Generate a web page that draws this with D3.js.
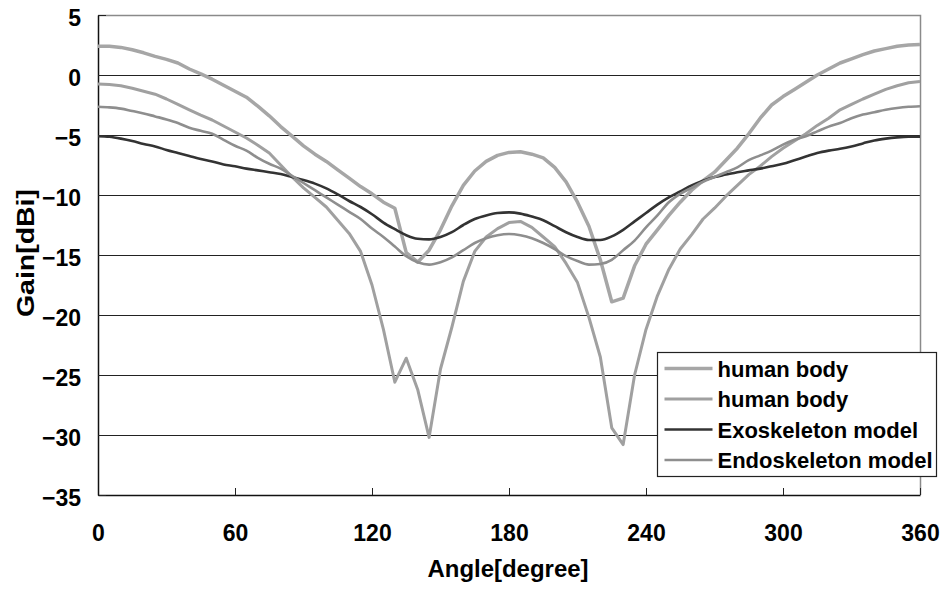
<!DOCTYPE html>
<html>
<head>
<meta charset="utf-8">
<script src="https://cdn.jsdelivr.net/npm/d3@7"></script>
<style>
    body { margin: 0; background: #fff; }
    svg { display: block; font-family: "Liberation Sans", Arial, sans-serif; font-weight: bold; }
</style>
</head>
<body>
<svg id="chart"></svg>
<script>
// angles every 5 degrees, 0..360
const angles = d3.range(0, 361, 5)

const humanBodyA = [
    2.4, 2.4, 2.3, 2.1, 1.85, 1.55, 1.3, 1.0, 0.5, 0.1,
    -0.35, -0.85, -1.35, -1.85, -2.6, -3.4, -4.3, -5.1, -5.9, -6.6,
    -7.2, -7.9, -8.6, -9.3, -9.9, -10.6, -11.1, -14.8, -15.6, -14.6,
    -12.9, -10.9, -9.2, -8.0, -7.2, -6.7, -6.45, -6.4, -6.6, -6.9,
    -7.7, -8.9, -10.6, -12.6, -15.4, -18.9, -18.6, -15.9, -14.1, -12.9,
    -11.7, -10.6, -9.6, -8.8, -8.1, -7.1, -6.1, -4.9, -3.6, -2.5,
    -1.8, -1.2, -0.6, 0.0, 0.5, 1.0, 1.35, 1.7, 2.0, 2.2,
    2.4, 2.5, 2.55
]
const humanBodyB = [
    -0.75, -0.8, -0.9, -1.1, -1.35, -1.6, -2.0, -2.45, -2.9, -3.35,
    -3.75, -4.25, -4.75, -5.25, -5.85, -6.5, -7.5, -8.5, -9.4, -10.2,
    -11.0, -12.1, -13.2, -14.7, -17.5, -21.2, -25.6, -23.6, -26.2, -30.2,
    -24.5, -21.0, -17.2, -14.7, -13.5, -12.8, -12.3, -12.2, -12.7, -13.5,
    -14.3, -15.7, -17.3, -20.2, -23.5, -29.4, -30.8, -25.0, -21.2, -18.4,
    -16.2, -14.5, -13.3, -12.0, -11.1, -10.1, -9.2, -8.3, -7.6, -6.8,
    -6.1, -5.5, -4.9, -4.2, -3.6, -2.9, -2.45, -2.0, -1.6, -1.2,
    -0.9, -0.65, -0.55
]
const exoskeleton = [
    -5.1, -5.15, -5.3, -5.5, -5.75, -5.95, -6.25, -6.5, -6.75, -7.0,
    -7.2, -7.45, -7.6, -7.8, -7.95, -8.1, -8.25, -8.5, -8.75, -9.05,
    -9.45, -9.95, -10.5, -11.0, -11.6, -12.3, -12.85, -13.35, -13.65, -13.7,
    -13.5, -13.1, -12.5, -12.0, -11.7, -11.5, -11.45, -11.55, -11.8, -12.1,
    -12.6, -13.1, -13.5, -13.75, -13.75, -13.45, -12.9, -12.2, -11.5, -10.8,
    -10.2, -9.7, -9.2, -8.8, -8.5, -8.3, -8.1, -7.95, -7.8, -7.6,
    -7.4, -7.1, -6.8, -6.5, -6.3, -6.15, -5.95, -5.7, -5.45, -5.3,
    -5.2, -5.15, -5.15
]
const endoskeleton = [
    -2.65, -2.7, -2.8, -3.0, -3.2, -3.45, -3.7, -4.0, -4.4, -4.65,
    -4.9, -5.4, -5.9, -6.3, -6.9, -7.4, -7.8, -8.4, -9.0, -9.6,
    -10.2, -10.8, -11.4, -12.0, -12.8, -13.5, -14.3, -15.1, -15.6, -15.8,
    -15.6, -15.2, -14.6, -14.0, -13.6, -13.35, -13.25, -13.35, -13.6, -14.0,
    -14.5, -15.1, -15.5, -15.8, -15.75, -15.4, -14.6, -13.8, -12.7, -11.7,
    -10.6, -9.9, -9.4, -8.9, -8.5, -8.1, -7.7, -7.1, -6.7, -6.3,
    -5.8, -5.4, -5.1, -4.7, -4.3, -4.0, -3.6, -3.3, -3.1, -2.9,
    -2.75, -2.65, -2.6
]

const xTicks = [0, 60, 120, 180, 240, 300, 360]
const yTicks = [5, 0, -5, -10, -15, -20, -25, -30, -35]

const seriesNames = ['human body', 'human body', 'Exoskeleton model', 'Endoskeleton model']

// series drawn in legend order
const series = [
    {name: seriesNames[0], values: humanBodyA, color: '#a6a6a6', width: 3.5, curve: d3.curveLinear},
    {name: seriesNames[1], values: humanBodyB, color: '#a0a0a0', width: 3, curve: d3.curveLinear},
    {name: seriesNames[2], values: exoskeleton, color: '#333333', width: 2.6, curve: d3.curveMonotoneX},
    {name: seriesNames[3], values: endoskeleton, color: '#8e8e8e', width: 2.6, curve: d3.curveMonotoneX}
]

// setting up container
    const width = 945
    const height = 590
    const plot = {left: 98, right: 920, top: 15, bottom: 495}
    const font = '"Liberation Sans", Arial, sans-serif'
    const svg = d3.select('#chart')
        .attr('width', width)
        .attr('height', height)

// set up scale
    const xScale = d3.scaleLinear()
        .domain([0, 360])
        .range([plot.left, plot.right])
    const yScale = d3.scaleLinear()
        .domain([-35, 5])
        .range([plot.bottom, plot.top])

// draw grid lines
    svg.append('g')
        .selectAll('line')
        .data(yTicks.filter(d => d < 5 && d > -35))
        .enter()
        .append('line')
            .attr('x1', plot.left)
            .attr('x2', plot.right)
            .attr('y1', d => Math.round(yScale(d)) + 0.5)
            .attr('y2', d => Math.round(yScale(d)) + 0.5)
            .attr('stroke', '#222')
            .attr('stroke-width', 1)

    // frame top and right in gray
    svg.append('path')
        .attr('d', `M${plot.left},${plot.top + 0.5}H${plot.right + 0.5}V${plot.bottom}`)
        .attr('fill', 'none')
        .attr('stroke', '#8a8a8a')
        .attr('stroke-width', 1.5)

// set up axes
    const xAxis = d3.axisBottom(xScale)
        .tickValues(xTicks)
        .tickSizeInner(-7)
        .tickSizeOuter(0)
        .tickPadding(30)
    const yAxis = d3.axisLeft(yScale)
        .tickValues(yTicks)
        .tickSizeInner(-8)
        .tickSizeOuter(0)
        .tickPadding(17)
    svg.append('g')
        .attr('transform', `translate(0, ${plot.bottom})`)
        .call(xAxis)
        .call(g => g.select('.domain').attr('stroke', '#111').attr('stroke-width', 1.5))
        .call(g => g.selectAll('.tick line').attr('stroke', '#222'))
        .selectAll('text')
            .attr('fill', '#000')
            .style('font-size', '23px')
            .style('font-weight', 'bold')
            .style('font-family', font)
    svg.append('g')
        .attr('transform', `translate(${plot.left}, 0)`)
        .call(yAxis)
        .call(g => g.select('.domain').attr('stroke', '#111').attr('stroke-width', 1.5))
        .call(g => g.selectAll('.tick line').attr('stroke', '#222'))
        .selectAll('text')
            .attr('fill', '#000')
            .attr('dy', '0.45em')
            .style('font-size', '23px')
            .style('font-weight', 'bold')
            .style('font-family', font)

    // axis titles
    svg.append('text')
        .attr('x', 508)
        .attr('y', 577)
        .attr('text-anchor', 'middle')
        .attr('textLength', 161)
        .attr('lengthAdjust', 'spacingAndGlyphs')
        .style('font-size', '24px')
        .text('Angle[degree]')
    svg.append('text')
        .attr('transform', 'translate(34, 253) rotate(-90)')
        .attr('text-anchor', 'middle')
        .attr('textLength', 128)
        .attr('lengthAdjust', 'spacingAndGlyphs')
        .style('font-size', '24px')
        .text('Gain[dBi]')

// set up data for svg
    const line = d3.line()
        .x((d, i) => xScale(angles[i]))
        .y(d => yScale(d))
    svg.append('g')
        .selectAll('path')
        .data(series)
        .enter()
        .append('path')
            .attr('d', s => line.curve(s.curve)(s.values))
            .attr('fill', 'none')
            .attr('stroke', s => s.color)
            .attr('stroke-width', s => s.width)
            .attr('stroke-linejoin', 'round')

// legend
    const legend = svg.append('g')
        .attr('transform', 'translate(657.5, 352.5)')
    legend.append('rect')
        .attr('width', 279)
        .attr('height', 124)
        .attr('fill', '#fff')
        .attr('stroke', '#222')
        .attr('stroke-width', 1.2)
    const rows = legend.selectAll('.row')
        .data(series)
        .enter()
        .append('g')
            .attr('class', 'row')
            .attr('transform', (d, i) => `translate(0, ${16 + i * 30.5})`)
    rows.append('line')
        .attr('x1', 7)
        .attr('x2', 55)
        .attr('stroke', d => d.color)
        .attr('stroke-width', d => d.width)
    rows.append('text')
        .attr('x', 60)
        .attr('y', 8)
        .style('font-size', '22px')
        .text(d => d.name)
</script>
</body>
</html>
